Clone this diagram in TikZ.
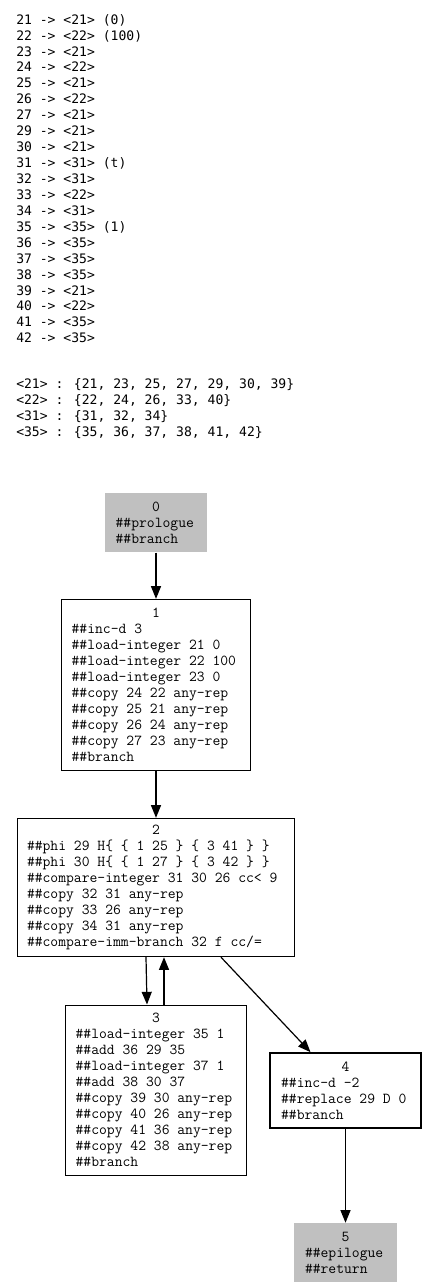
\documentclass[tikz,border=0pt]{standalone}
\usepackage{fontspec}
\usetikzlibrary{arrows.meta,calc}
\newfontfamily\mapfont{DejaVu Sans Mono}
\definecolor{shade}{HTML}{C0C0C0}

\begin{document}
\begin{tikzpicture}[
  x=0.75pt, y=-0.75pt,
  listing/.style={
    font=\fontsize{9.8pt}{11.95pt}\selectfont\mapfont,
    align=left, inner sep=0pt, anchor=north west,
  },
  block/.style={
    draw, line width=0.75pt, inner sep=0pt, align=left,
    font=\fontsize{11.4pt}{12pt}\selectfont\ttfamily,
    execute at begin node={\spaceskip=0pt\xspaceskip=0pt\relax},
  },
  entry/.style={block, draw=none, fill=shade},
  exit/.style={block, line width=1.75pt},
  arrow/.style={-{Triangle[length=9.5pt,width=7.5pt]}, line width=0.9pt},
]
  \useasboundingbox (0,0) rectangle (425,1288);

  \node[listing] (vmap) at (16,14) {21 -> <21> (0)\\ 22 -> <22> (100)\\ 23 -> <21>\\
    24 -> <22>\\ 25 -> <21>\\ 26 -> <22>\\ 27 -> <21>\\ 29 -> <21>\\ 30 -> <21>\\
    31 -> <31> (t)\\ 32 -> <31>\\ 33 -> <22>\\ 34 -> <31>\\ 35 -> <35> (1)\\
    36 -> <35>\\ 37 -> <35>\\ 38 -> <35>\\ 39 -> <21>\\ 40 -> <22>\\ 41 -> <35>\\
    42 -> <35>};
  \node[listing] (classes) at (16,378.5) {<21> : \{21, 23, 25, 27, 29, 30, 39\}\\
    <22> : \{22, 24, 26, 33, 40\}\\ <31> : \{31, 32, 34\}\\
    <35> : \{35, 36, 37, 38, 41, 42\}};

  \node[entry, minimum width=77pt, minimum height=44.5pt, text width=60.5pt]
    (b0) at (156,522.4) {\hfill 0\hfill\null\\ \#\#prologue\\ \#\#branch};
  \node[block, minimum width=142.3pt, minimum height=128.5pt, text width=126.5pt]
    (b1) at (156,685) {\hfill 1\hfill\null\\ \#\#inc-d 3\\ \#\#load-integer 21 0\\
    \#\#load-integer 22 100\\ \#\#load-integer 23 0\\ \#\#copy 24 22 any-rep\\
    \#\#copy 25 21 any-rep\\ \#\#copy 26 24 any-rep\\ \#\#copy 27 23 any-rep\\
    \#\#branch};
  \node[block, minimum width=208pt, minimum height=103.8pt, text width=193.5pt]
    (b2) at (156,887.5) {\hfill 2\hfill\null\\
    \#\#phi 29 H\{ \{ 1 25 \} \{ 3 41 \} \}\\ \#\#phi 30 H\{ \{ 1 27 \} \{ 3 42 \} \}\\
    \#\#compare-integer 31 30 26 cc< 9\\ \#\#copy 32 31 any-rep\\
    \#\#copy 33 26 any-rep\\ \#\#copy 34 31 any-rep\\
    \#\#compare-imm-branch 32 f cc/=};
  \node[block, minimum width=136.3pt, minimum height=127.5pt, text width=120.5pt]
    (b3) at (156,1090) {\hfill 3\hfill\null\\ \#\#load-integer 35 1\\ \#\#add 36 29 35\\
    \#\#load-integer 37 1\\ \#\#add 38 30 37\\ \#\#copy 39 30 any-rep\\
    \#\#copy 40 26 any-rep\\ \#\#copy 41 36 any-rep\\ \#\#copy 42 38 any-rep\\
    \#\#branch};
  \node[exit, minimum width=113pt, minimum height=55.8pt, text width=96.5pt]
    (b4) at (345.5,1090.5) {\hfill 4\hfill\null\\ \#\#inc-d -2\\ \#\#replace 29 D 0\\
    \#\#branch};
  \node[entry, minimum width=76.8pt, minimum height=44.3pt, text width=60.75pt]
    (b5) at (345.5,1252.8) {\hfill 5\hfill\null\\ \#\#epilogue\\ \#\#return};

  \draw[arrow] (b0) -- (b1);
  \draw[arrow] (b1) -- (b2);
  \draw[arrow] ($(b2.south)+(-10,0)$) -- ($(b3.north)+(-9,0)$);
  \draw[arrow] ($(b3.north)+(8,0)$) -- ($(b2.south)+(8,0)$);
  \draw[arrow] ($(b2.south)+(65,0)$) -- ($(b4.north)+(-35,0)$);
  \draw[arrow] (b4) -- (b5);
\end{tikzpicture}
\end{document}
